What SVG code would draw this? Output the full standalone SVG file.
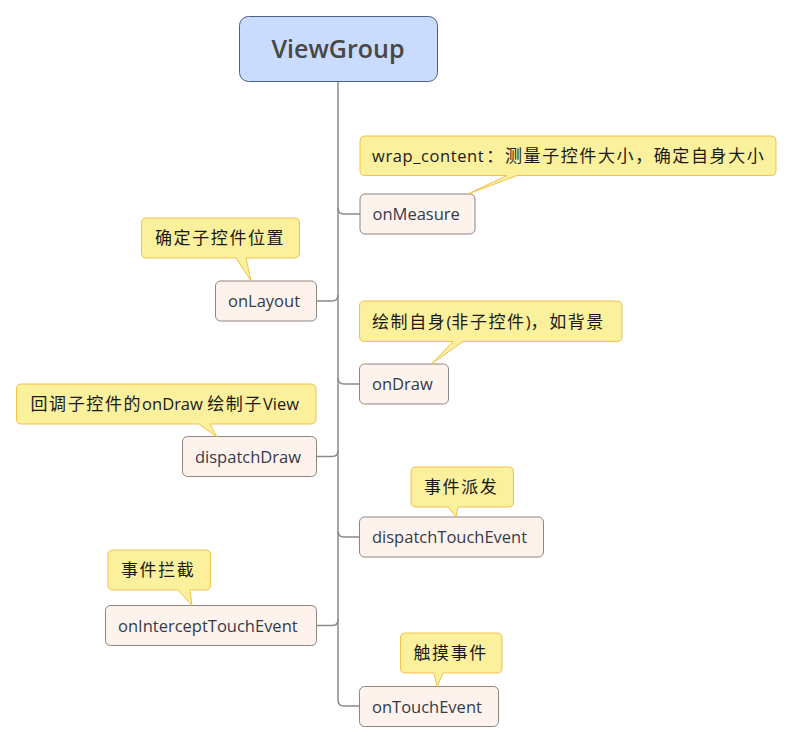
<svg xmlns="http://www.w3.org/2000/svg" width="792" height="743" viewBox="0 0 792 743">
<style>
.bg{fill:#ffffff}
.root rect{fill:#c9dcfd;stroke:#4f5f8c;stroke-width:1}
.root text{font-family:"Open Sans","Liberation Sans",sans-serif;font-weight:600;font-size:25px;fill:#474747;text-anchor:middle}
.node rect{fill:#fdf3ec;stroke:#8e8480;stroke-width:1}
.node text{font-family:"Open Sans","Liberation Sans",sans-serif;font-size:16.5px;fill:#333b4a}
.call path{fill:#fbf09c;stroke:#f2c14e;stroke-width:1;stroke-linejoin:round}
.call text{font-family:"Open Sans","Noto Sans CJK SC",sans-serif;font-size:16.5px;fill:#1a1a1a}
.c{font-family:"Noto Sans CJK SC",sans-serif;font-size:17px;letter-spacing:1.6px}
.w{letter-spacing:0.6px}
.conn path{fill:none;stroke:#8a8a8a;stroke-width:1.5}
</style>
<rect class="bg" x="0" y="0" width="792" height="743"/>
<g id="connectors" class="conn">
<path d="M338,81 V700 Q338,706 344,706 H359.5"/>
<path d="M338,208 Q338,214 344,214 H360"/>
<path d="M338,378 Q338,384 344,384 H359.5"/>
<path d="M338,531 Q338,537 344,537 H359.5"/>
<path d="M316.5,301 H332 Q338,301 338,295"/>
<path d="M316.5,456.5 H332 Q338,456.5 338,450.5"/>
<path d="M316.5,625.5 H332 Q338,625.5 338,619.5"/>
</g>
<g id="root" class="root">
<rect x="239.5" y="16.5" width="198" height="65" rx="9"/>
<text x="338" y="58">ViewGroup</text>
</g>
<g id="onMeasure" class="node">
<rect x="360" y="194" width="115" height="40" rx="5"/>
<text x="372.5" y="220">onMeasure</text>
</g>
<g id="onLayout" class="node">
<rect x="215.5" y="281" width="101" height="40" rx="5"/>
<text x="228" y="307">onLayout</text>
</g>
<g id="onDraw" class="node">
<rect x="359.5" y="364" width="89" height="40" rx="5"/>
<text x="372" y="390">onDraw</text>
</g>
<g id="dispatchDraw" class="node">
<rect x="182.5" y="436.5" width="134" height="40" rx="5"/>
<text x="195" y="462.5">dispatchDraw</text>
</g>
<g id="dispatchTouchEvent" class="node">
<rect x="359.5" y="517" width="184" height="40" rx="5"/>
<text x="372" y="543">dispatchTouchEvent</text>
</g>
<g id="onInterceptTouchEvent" class="node">
<rect x="105.5" y="605.5" width="211" height="40" rx="5"/>
<text x="118" y="631.5">onInterceptTouchEvent</text>
</g>
<g id="onTouchEvent" class="node">
<rect x="359.5" y="686.5" width="139" height="40" rx="5"/>
<text x="372" y="712.5">onTouchEvent</text>
</g>
<g id="note-onMeasure" class="call">
<path d="M365,136 H771 Q776,136 776,141 V170.5 Q776,175.5 771,175.5 H517 L468,194 L507,175.5 H365 Q360,175.5 360,170.5 V141 Q360,136 365,136 Z"/>
<text x="372" y="162"><tspan class="w">wrap_content</tspan><tspan class="c" dx="2">：测量子控件大小，确定自身大小</tspan></text>
</g>
<g id="note-onLayout" class="call">
<path d="M146.5,218 H294.5 Q299.5,218 299.5,223 V253 Q299.5,258 294.5,258 H246 L251,281 L236,258 H146.5 Q141.5,258 141.5,253 V223 Q141.5,218 146.5,218 Z"/>
<text x="155" y="244"><tspan class="c">确定子控件位置</tspan></text>
</g>
<g id="note-onDraw" class="call">
<path d="M364.5,301 H617 Q622,301 622,306 V336.5 Q622,341.5 617,341.5 H463 L431.5,364 L453,341.5 H364.5 Q359.5,341.5 359.5,336.5 V306 Q359.5,301 364.5,301 Z"/>
<text x="372" y="327.5"><tspan class="c">绘制自身</tspan>(<tspan class="c">非子控件</tspan>)<tspan class="c">，如背景</tspan></text>
</g>
<g id="note-dispatchDraw" class="call">
<path d="M21.5,384 H311 Q316,384 316,389 V419 Q316,424 311,424 H210 L217,437 L199,424 H21.5 Q16.5,424 16.5,419 V389 Q16.5,384 21.5,384 Z"/>
<text x="30.5" y="410"><tspan class="c">回调子控件的</tspan>onDraw <tspan class="c">绘制子</tspan>View</text>
</g>
<g id="note-dispatchTouchEvent" class="call">
<path d="M416,467 H508.5 Q513.5,467 513.5,472 V502 Q513.5,507 508.5,507 H458 L456,517 L448,507 H416 Q411,507 411,502 V472 Q411,467 416,467 Z"/>
<text x="424" y="493"><tspan class="c">事件派发</tspan></text>
</g>
<g id="note-onInterceptTouchEvent" class="call">
<path d="M113,550 H205.5 Q210.5,550 210.5,555 V585 Q210.5,590 205.5,590 H190 L192,605.5 L178,590 H113 Q108,590 108,585 V555 Q108,550 113,550 Z"/>
<text x="121" y="576"><tspan class="c">事件拦截</tspan></text>
</g>
<g id="note-onTouchEvent" class="call">
<path d="M405.5,633 H497 Q502,633 502,638 V668 Q502,673 497,673 H443 L437,687 L434,673 H405.5 Q400.5,673 400.5,668 V638 Q400.5,633 405.5,633 Z"/>
<text x="413.5" y="659"><tspan class="c">触摸事件</tspan></text>
</g>
</svg>
